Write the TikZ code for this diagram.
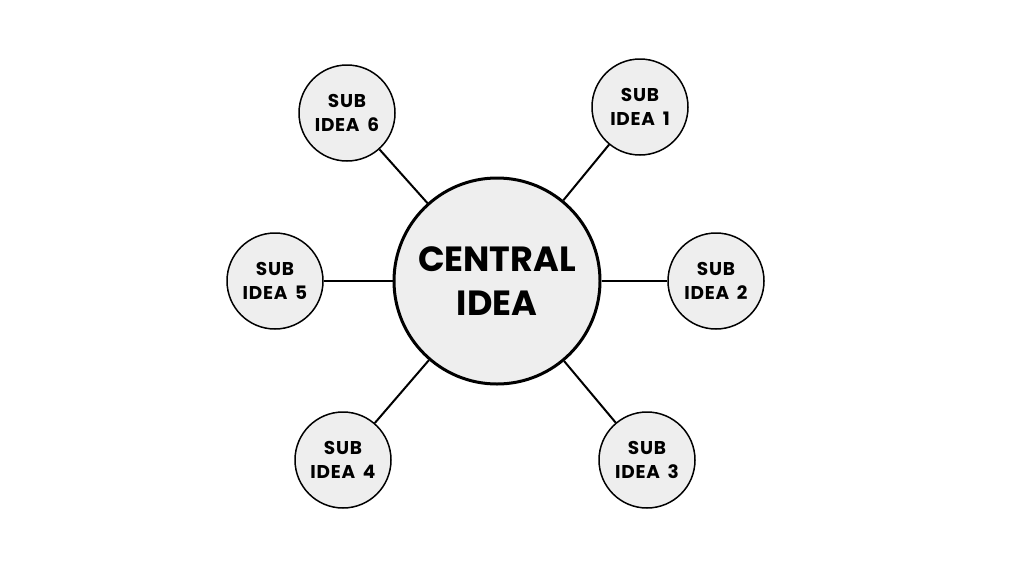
\documentclass[tikz,border=0pt]{standalone}
\usepackage{fontspec}
\setmainfont{Poppins}
\newfontfamily\subfont{Poppins}[LetterSpace=4]
\newfontfamily\hubfont{Poppins}
\newcommand\subtxt[1]{SUB\\IDEA\hspace{0.42em}#1}
\begin{document}
\begin{tikzpicture}[x=1pt,y=-1pt,
  bubble/.style={circle,draw=black,fill=bubblegray,line width=1.5pt,minimum size=96pt,inner sep=0pt,align=center,font=\subfont\fontsize{18.5}{23.5}\selectfont\bfseries},
  hub/.style={circle,draw=black,fill=bubblegray,line width=3pt,minimum size=206pt,inner sep=0pt,align=center,font=\hubfont\fontsize{35}{44}\selectfont\bfseries},
  link/.style={line width=2pt,black}]
\definecolor{bubblegray}{HTML}{EEEEEE}
\useasboundingbox (0,0) rectangle (1024,576);
\fill[white] (0,0) rectangle (1024,576);
\node[hub] (c) at (497,281) {CENTRAL\\IDEA};
\node[bubble] (s1) at (640,107) {\subtxt{1}};
\node[bubble] (s2) at (716,281) {\subtxt{2}};
\node[bubble] (s3) at (647,460) {\subtxt{3}};
\node[bubble] (s4) at (343,460) {\subtxt{4}};
\node[bubble] (s5) at (275,281) {\subtxt{5}};
\node[bubble] (s6) at (347,113) {\subtxt{6}};
\foreach \s in {s1,s2,s3,s4,s5,s6} \draw[link] (c) -- (\s);
\end{tikzpicture}
\end{document}
